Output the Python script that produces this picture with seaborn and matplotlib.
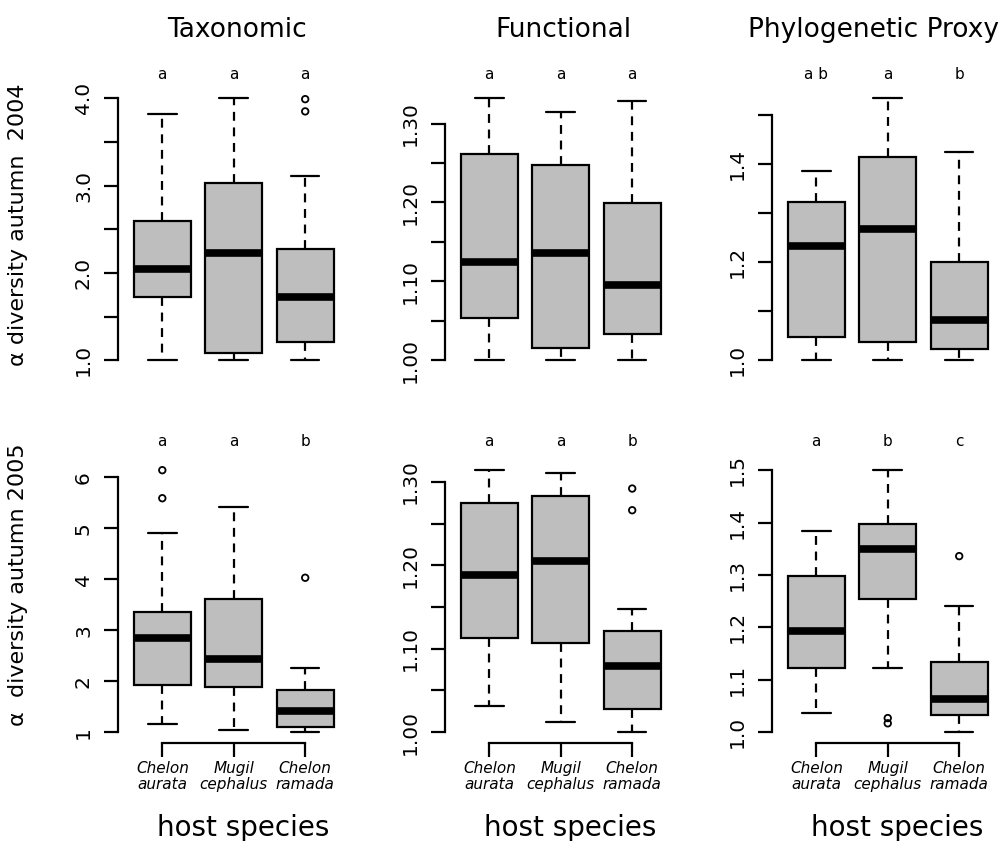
import numpy as np
import pandas as pd
import matplotlib
matplotlib.use("Agg")
import matplotlib.pyplot as plt
import matplotlib.transforms as mtransforms
import seaborn as sns

# ---------------- data ----------------
hosts = ["Chelon\naurata", "Mugil\ncephalus", "Chelon\nramada"]
metrics = ["Taxonomic", "Functional", "Phylogenetic Proxy"]
ylabels = ["α diversity autumn  2004", "α  diversity autumn 2005"]

# 2004 - Taxonomic
tax04_lo = [1.00, 1.00, 1.00]
tax04_q1 = [1.72, 1.08, 1.21]
tax04_med = [2.04, 2.23, 1.73]
tax04_q3 = [2.60, 3.03, 2.28]
tax04_hi = [3.82, 4.00, 3.11]
tax04_out = [[], [], [3.85, 3.99]]
tax04_letters = ["a", "a", "a"]

# 2004 - Functional
fun04_lo = [1.000, 1.000, 1.000]
fun04_q1 = [1.054, 1.015, 1.033]
fun04_med = [1.125, 1.136, 1.095]
fun04_q3 = [1.261, 1.248, 1.199]
fun04_hi = [1.332, 1.314, 1.328]
fun04_out = [[], [], []]
fun04_letters = ["a", "a", "a"]

# 2004 - Phylogenetic proxy
phy04_lo = [1.000, 1.000, 1.000]
phy04_q1 = [1.047, 1.037, 1.024]
phy04_med = [1.233, 1.267, 1.081]
phy04_q3 = [1.322, 1.414, 1.200]
phy04_hi = [1.385, 1.533, 1.424]
phy04_out = [[], [], []]
phy04_letters = ["a b", "a", "b"]

# 2005 - Taxonomic
tax05_lo = [1.16, 1.05, 1.00]
tax05_q1 = [1.92, 1.88, 1.11]
tax05_med = [2.84, 2.43, 1.42]
tax05_q3 = [3.35, 3.61, 1.82]
tax05_hi = [4.90, 5.41, 2.25]
tax05_out = [[5.59, 6.14], [], [4.03]]
tax05_letters = ["a", "a", "b"]

# 2005 - Functional
fun05_lo = [1.032, 1.012, 1.000]
fun05_q1 = [1.113, 1.107, 1.028]
fun05_med = [1.188, 1.205, 1.079]
fun05_q3 = [1.275, 1.283, 1.121]
fun05_hi = [1.314, 1.311, 1.148]
fun05_out = [[], [], [1.266, 1.292]]
fun05_letters = ["a", "a", "b"]

# 2005 - Phylogenetic proxy
phy05_lo = [1.036, 1.122, 1.000]
phy05_q1 = [1.122, 1.254, 1.033]
phy05_med = [1.193, 1.349, 1.064]
phy05_q3 = [1.299, 1.397, 1.134]
phy05_hi = [1.384, 1.500, 1.241]
phy05_out = [[], [1.017, 1.027], [1.336]]
phy05_letters = ["a", "b", "c"]

# y axis ticks / labels per panel
tax04_ticks = [1.0, 1.5, 2.0, 2.5, 3.0, 3.5, 4.0]
tax04_ticklabels = ["1.0", "", "2.0", "", "3.0", "", "4.0"]
fun04_ticks = [1.00, 1.05, 1.10, 1.15, 1.20, 1.25, 1.30]
fun04_ticklabels = ["1.00", "", "1.10", "", "1.20", "", "1.30"]
phy04_ticks = [1.0, 1.1, 1.2, 1.3, 1.4, 1.5]
phy04_ticklabels = ["1.0", "", "1.2", "", "1.4", ""]
tax05_ticks = [1, 2, 3, 4, 5, 6]
tax05_ticklabels = ["1", "2", "3", "4", "5", "6"]
fun05_ticks = [1.00, 1.05, 1.10, 1.15, 1.20, 1.25, 1.30]
fun05_ticklabels = ["1.00", "", "1.10", "", "1.20", "", "1.30"]
phy05_ticks = [1.0, 1.1, 1.2, 1.3, 1.4, 1.5]
phy05_ticklabels = ["1.0", "1.1", "1.2", "1.3", "1.4", "1.5"]

panels = [
    [(tax04_lo, tax04_q1, tax04_med, tax04_q3, tax04_hi, tax04_out, tax04_letters, tax04_ticks, tax04_ticklabels),
     (fun04_lo, fun04_q1, fun04_med, fun04_q3, fun04_hi, fun04_out, fun04_letters, fun04_ticks, fun04_ticklabels),
     (phy04_lo, phy04_q1, phy04_med, phy04_q3, phy04_hi, phy04_out, phy04_letters, phy04_ticks, phy04_ticklabels)],
    [(tax05_lo, tax05_q1, tax05_med, tax05_q3, tax05_hi, tax05_out, tax05_letters, tax05_ticks, tax05_ticklabels),
     (fun05_lo, fun05_q1, fun05_med, fun05_q3, fun05_hi, fun05_out, fun05_letters, fun05_ticks, fun05_ticklabels),
     (phy05_lo, phy05_q1, phy05_med, phy05_q3, phy05_hi, phy05_out, phy05_letters, phy05_ticks, phy05_ticklabels)],
]

# ---------------- style ----------------
sns.set_theme(style="ticks")
plt.rcParams['font.family'] = ['DejaVu Sans']

W, H = 1003, 841
fig = plt.figure(figsize=(W / 100, H / 100), dpi=100)
fig.patch.set_facecolor("white")

col_left = [118, 445, 772]
col_w = 231.5
row_top = [87.8, 459.7]
row_h = 283
letter_y = [1.046, 1.066]

for r in range(2):
    for c in range(3):
        lo, q1, med, q3, hi, out, letters, ticks, ticklabels = panels[r][c]
        ax = fig.add_axes([col_left[c] / W, 1 - (row_top[r] + row_h) / H,
                           col_w / W, row_h / H])
        ax.set_facecolor("white")
        # build a small table whose quartiles equal the five-number summary
        rows = []
        for h, a, b, m, d, e in zip(hosts, lo, q1, med, q3, hi):
            for v in (a, b, b, m, d, d, e):
                rows.append({"host": h, "value": v})
        df = pd.DataFrame(rows)
        sns.boxplot(data=df, x="host", y="value", order=hosts, ax=ax,
                    whis=(0, 100), width=0.8, color="#BEBEBE", saturation=1,
                    linecolor="black", linewidth=1.6, fliersize=0,
                    medianprops=dict(color="black", linewidth=5.5, solid_capstyle="butt"),
                    whiskerprops=dict(color="black", linewidth=1.6, linestyle=(0, (4, 3))),
                    capprops=dict(color="black", linewidth=1.6))
        # outliers
        for i, vals in enumerate(out):
            if vals:
                ax.scatter([i] * len(vals), vals, s=22, facecolors="none",
                           edgecolors="black", linewidths=1.3, zorder=5)
        # R-like y range (4% expansion)
        allv = lo + hi + [v for o in out for v in o]
        ymin, ymax = min(allv), max(allv)
        pad = 0.04 * (ymax - ymin)
        ax.set_ylim(ymin - pad, ymax + pad)
        ax.set_xlim(-0.62, 2.62)
        ax.set_xlabel("")
        ax.set_ylabel("")
        ax.set_yticks(ticks)
        ax.set_yticklabels(ticklabels)
        ax.tick_params(axis="y", length=10, width=1.6, pad=8, labelsize=14.5,
                       labelrotation=90, colors="black")
        for lbl in ax.get_yticklabels():
            lbl.set_va("center")
            lbl.set_ha("right")
        ax.spines["left"].set_bounds(ticks[0], ticks[-1])
        ax.spines["left"].set_linewidth(1.6)
        ax.spines["left"].set_color("black")
        for s in ("top", "right"):
            ax.spines[s].set_visible(False)
        if r == 0:
            ax.spines["bottom"].set_visible(False)
            ax.set_xticks([])
        else:
            ax.set_xticks([0, 1, 2])
            ax.set_xticklabels(hosts, fontstyle="italic", fontsize=11, linespacing=1.1)
            ax.tick_params(axis="x", length=10, width=1.6, pad=3, colors="black")
            ax.spines["bottom"].set_bounds(0, 2)
            ax.spines["bottom"].set_linewidth(1.6)
            ax.spines["bottom"].set_color("black")
        # significance letters
        trans = mtransforms.blended_transform_factory(ax.transData, ax.transAxes)
        for i, L in enumerate(letters):
            ax.text(i, letter_y[r], L, transform=trans, ha="center", va="center",
                    fontsize=11, color="black")

# column titles
title_x = [237, 563, 874]
for c in range(3):
    fig.text(title_x[c] / W, 1 - 30 / H, metrics[c], ha="center", va="center",
             fontsize=19, color="black")

# x axis titles
hs_x = [243, 570, 897]
for c in range(3):
    fig.text(hs_x[c] / W, 1 - 828 / H, "host species", ha="center", va="center",
             fontsize=20, color="black")

# y axis titles
fig.text(18 / W, 1 - 225 / H, ylabels[0], rotation=90, ha="center", va="center",
         fontsize=16, color="black")
fig.text(18 / W, 1 - 585 / H, ylabels[1], rotation=90, ha="center", va="center",
         fontsize=16, color="black")

fig.savefig("out.png", dpi=100, facecolor="white")
